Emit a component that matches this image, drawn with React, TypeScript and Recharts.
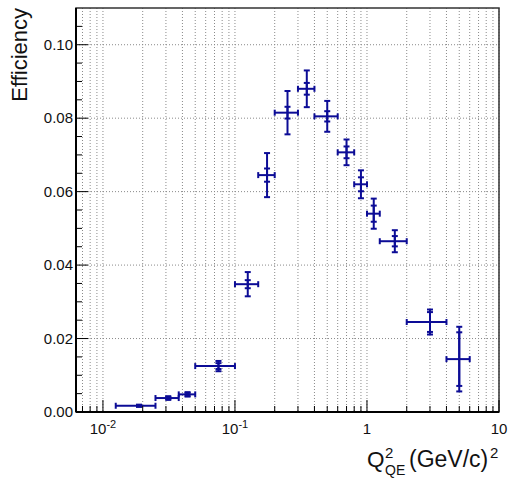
import React from 'react';
import {
  ScatterChart,
  Scatter,
  XAxis,
  YAxis,
  CartesianGrid,
  ErrorBar,
  ReferenceLine,
  ReferenceArea,
} from 'recharts';

// Q2 bins (GeV/c)^2
const binLow = [0.0125, 0.025, 0.0375, 0.05, 0.1, 0.15, 0.2, 0.3, 0.4, 0.6, 0.8, 1.0, 1.25, 2, 4];
const binHigh = [0.025, 0.0375, 0.05, 0.1, 0.15, 0.2, 0.3, 0.4, 0.6, 0.8, 1.0, 1.25, 2, 4, 6];
const binCenter = [0.01875, 0.03125, 0.04375, 0.075, 0.125, 0.175, 0.25, 0.35, 0.5, 0.7, 0.9, 1.125, 1.625, 3.0, 5.0];

const efficiency = [0.0017, 0.0038, 0.0048, 0.0125, 0.0348, 0.0645, 0.0815, 0.088, 0.0805, 0.0707, 0.062, 0.054, 0.0465, 0.0245, 0.0144];
const statErr = [0.0002, 0.0003, 0.0004, 0.0008, 0.0011, 0.0018, 0.0016, 0.0016, 0.0014, 0.0016, 0.0019, 0.0022, 0.0014, 0.0027, 0.0073];
const totalErr = [0.0003, 0.0005, 0.0006, 0.0014, 0.0033, 0.006, 0.0059, 0.005, 0.0042, 0.0035, 0.0038, 0.0041, 0.003, 0.0034, 0.0088];

const xTicks = [
  0.007, 0.008, 0.009,
  0.01, 0.02, 0.03, 0.04, 0.05, 0.06, 0.07, 0.08, 0.09,
  0.1, 0.2, 0.3, 0.4, 0.5, 0.6, 0.7, 0.8, 0.9,
  1, 2, 3, 4, 5, 6, 7, 8, 9, 10,
];
const xMajorLabels: [number, string, string][] = [
  [0.01, '10', '-2'],
  [0.1, '10', '-1'],
  [1, '1', ''],
  [10, '10', ''],
];
const yTicks = [
  0, 0.005, 0.01, 0.015, 0.02, 0.025, 0.03, 0.035, 0.04, 0.045, 0.05,
  0.055, 0.06, 0.065, 0.07, 0.075, 0.08, 0.085, 0.09, 0.095, 0.1, 0.105,
];
const yMajor = [0, 0.02, 0.04, 0.06, 0.08, 0.1];

const data = binCenter.map((x, i) => ({
  x,
  y: efficiency[i],
  errX: [x - binLow[i], binHigh[i] - x],
  stat: statErr[i],
  total: totalErr[i],
}));

const BLUE = '#0c0c96';
const FONT = '"Liberation Sans", Arial, Helvetica, sans-serif';

const XTick = (props: any) => {
  const { x, y, payload } = props;
  const v = payload.value;
  const lbl = xMajorLabels.find((m) => Math.abs(m[0] - v) < 1e-9);
  const len = lbl ? 12 : 6;
  return (
    <g>
      <line x1={x} y1={y} x2={x} y2={y - len} stroke="#000" strokeWidth={1} />
      {lbl && (
        <text x={x} y={y + 22} textAnchor="middle" fontSize={15} fontFamily={FONT} fill="#111">
          <tspan>{lbl[1]}</tspan>
          {lbl[2] && (
            <tspan dy={-6} fontSize={11}>
              {lbl[2]}
            </tspan>
          )}
        </text>
      )}
    </g>
  );
};

const YTick = (props: any) => {
  const { x, y, payload } = props;
  const v = payload.value;
  const major = yMajor.some((m) => Math.abs(m - v) < 1e-9);
  return (
    <g>
      <line x1={x} y1={y} x2={x + (major ? 12 : 6)} y2={y} stroke="#000" strokeWidth={1} />
      {major && (
        <text x={x - 3} y={y + 5} textAnchor="end" fontSize={15} fontFamily={FONT} fill="#111">
          {v.toFixed(2)}
        </text>
      )}
    </g>
  );
};

const YTitle = () => (
  <text
    x={27}
    y={8}
    transform="rotate(-90, 27, 8)"
    textAnchor="end"
    fontSize={22}
    fontFamily={FONT}
    fill="#111"
  >
    Efficiency
  </text>
);

const XTitle = () => (
  <g fontFamily={FONT} fill="#111">
    <text x={367} y={467} fontSize={22.5}>Q</text>
    <text x={385} y={458} fontSize={15}>2</text>
    <text x={385} y={475} fontSize={14}>QE</text>
    <text x={409} y={467} fontSize={23}>(GeV/c)</text>
    <text x={490} y={458} fontSize={15}>2</text>
  </g>
);

export default function App() {
  return (
    <div style={{ position: 'absolute', left: 0, top: 0, width: 510, height: 478, background: '#fff' }}>
      <ScatterChart width={510} height={478} margin={{ top: 8, right: 11, bottom: 0, left: 0 }}>
        <CartesianGrid horizontal={false} stroke="#8a8a8a" strokeDasharray="1 2" />
        {yMajor.slice(1).map((v) => (
          <ReferenceLine key={v} y={v} stroke="#8a8a8a" strokeDasharray="1 2" />
        ))}
        <ReferenceArea
          x1={0.00625}
          x2={10}
          y1={0}
          y2={0.11}
          fill="none"
          stroke="#333"
          strokeWidth={1.5}
        />
        <XAxis
          type="number"
          dataKey="x"
          scale="log"
          domain={[0.00625, 10]}
          allowDataOverflow
          ticks={xTicks}
          interval={0}
          tick={<XTick />}
          tickLine={false}
          tickSize={0}
          tickMargin={0}
          height={66}
          axisLine={{ stroke: '#000', strokeWidth: 2 }}
          label={<XTitle />}
        />
        <YAxis
          type="number"
          dataKey="y"
          domain={[0, 0.11]}
          allowDataOverflow
          ticks={yTicks}
          interval={0}
          tick={<YTick />}
          tickLine={false}
          tickSize={0}
          tickMargin={0}
          width={76}
          axisLine={{ stroke: '#000', strokeWidth: 2 }}
          label={<YTitle />}
        />
        <Scatter data={data} isAnimationActive={false} shape={() => <g />}>
          <ErrorBar dataKey="errX" direction="x" width={3} stroke={BLUE} strokeWidth={2} isAnimationActive={false} />
          <ErrorBar dataKey="total" direction="y" width={3} stroke={BLUE} strokeWidth={2} isAnimationActive={false} />
          <ErrorBar dataKey="stat" direction="y" width={3} stroke={BLUE} strokeWidth={2} isAnimationActive={false} />
        </Scatter>
      </ScatterChart>
    </div>
  );
}
